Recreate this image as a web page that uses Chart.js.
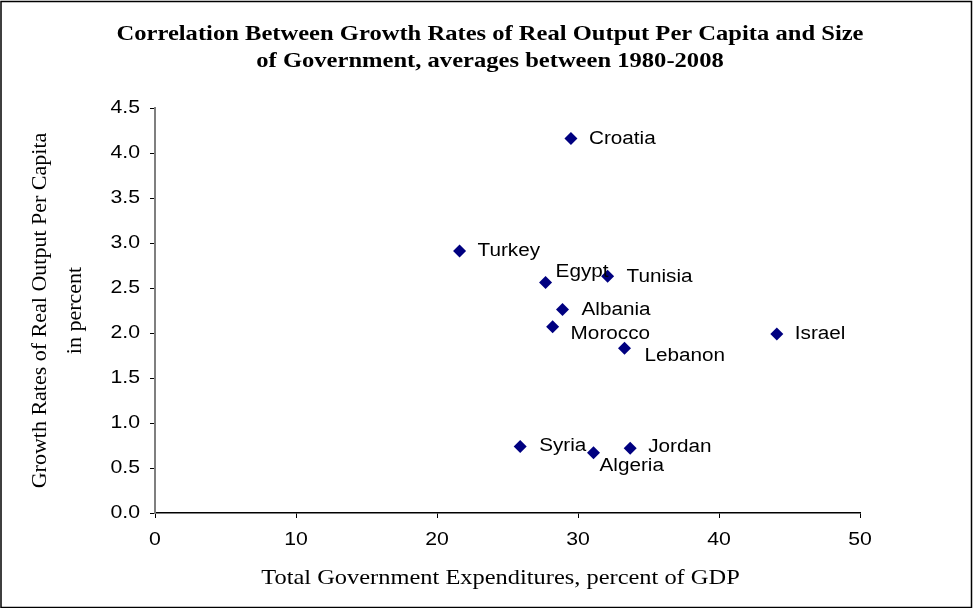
<!DOCTYPE html>
<html>
<head>
<meta charset="utf-8">
<script src="https://cdn.jsdelivr.net/npm/chart.js@4.4.1/dist/chart.umd.min.js"></script>
<style>
  html, body { margin: 0; padding: 0; background: #fff; }
  #wrap { width: 973px; height: 608px; }
</style>
</head>
<body>
<div id="wrap"><canvas id="chart" width="973" height="608"></canvas></div>
<script>
// country names, x = government expenditure (% of GDP), y = growth rate (%)
const countries = ['Croatia', 'Turkey', 'Egypt', 'Tunisia', 'Albania', 'Morocco',
  'Lebanon', 'Israel', 'Syria', 'Algeria', 'Jordan'];
const govSpending = [29.5, 21.6, 27.7, 32.1, 28.9, 28.2, 33.3, 44.1, 25.9, 31.1, 33.7];
const growthRate = [4.16, 2.91, 2.56, 2.63, 2.26, 2.07, 1.83, 1.99, 0.74, 0.67, 0.72];
const xTicks = [0, 10, 20, 30, 40, 50];
const yTicks = [0, 0.5, 1, 1.5, 2, 2.5, 3, 3.5, 4, 4.5];

const titleLines = ['Correlation Between Growth Rates of Real Output Per Capita and Size',
  'of Government, averages between 1980-2008'];
const xTitle = 'Total Government Expenditures, percent of GDP';
const yTitleLines = ['Growth Rates of Real Output Per Capita', 'in percent'];

// label nudges in pixels (dx, dy), same order as countries
const labelShift = [[18, 0], [18, 0], [10, -11], [19, 1], [19, 0], [18, 7],
  [20, 8], [18, 0], [19, 0], [6, 13], [18, -1]];

const points = govSpending.map((x, i) => ({ x: x, y: growthRate[i] }));

const SANS = '"Liberation Sans", Arial, sans-serif';
const SERIF = '"Liberation Serif", "Times New Roman", serif';

// text in the picture is a bit wider than the plain fonts, so stretch it
function stretchText(ctx, text, x, y, sx, align) {
  ctx.save();
  ctx.translate(x, y);
  ctx.scale(sx, 1);
  ctx.textAlign = align;
  ctx.fillText(text, 0, 0);
  ctx.restore();
}

// white background + frame around the whole picture
const framePlugin = {
  id: 'frame',
  beforeDraw(chart) {
    const ctx = chart.ctx;
    ctx.save();
    ctx.fillStyle = '#fff';
    ctx.fillRect(0, 0, chart.width, chart.height);
    ctx.restore();
  },
  afterDraw(chart) {
    const ctx = chart.ctx;
    ctx.save();
    ctx.strokeStyle = '#000';
    ctx.lineWidth = 1.5;
    ctx.strokeRect(1, 1.5, chart.width - 2.5, chart.height - 2);
    ctx.restore();
  }
};

// titles, tick labels and country names
const textPlugin = {
  id: 'texts',
  afterDatasetsDraw(chart) {
    const ctx = chart.ctx;
    const area = chart.chartArea;
    const xs = chart.scales.x;
    const ys = chart.scales.y;
    ctx.save();
    ctx.fillStyle = '#000';
    ctx.textBaseline = 'middle';

    // main title
    ctx.font = 'bold 21px ' + SERIF;
    stretchText(ctx, titleLines[0], 490, 35, 1.17, 'center');
    stretchText(ctx, titleLines[1], 490, 62, 1.17, 'center');

    // tick labels
    ctx.font = '18px ' + SANS;
    xTicks.forEach(v => {
      stretchText(ctx, String(v), xs.getPixelForValue(v), 540, 1.18, 'center');
    });
    yTicks.forEach(v => {
      stretchText(ctx, v.toFixed(1), area.left - 15, ys.getPixelForValue(v), 1.18, 'right');
    });

    // axis titles
    ctx.font = '22px ' + SERIF;
    stretchText(ctx, xTitle, (area.left + area.right) / 2 - 7, 578, 1.11, 'center');
    const midY = (area.top + area.bottom) / 2;
    ctx.save();
    ctx.translate(40, midY);
    ctx.rotate(-Math.PI / 2);
    ctx.textAlign = 'center';
    ctx.fillText(yTitleLines[0], 0, 0);
    ctx.fillText(yTitleLines[1], 0, 35);
    ctx.restore();

    // country names
    const meta = chart.getDatasetMeta(0);
    ctx.font = '18px ' + SANS;
    meta.data.forEach((pt, i) => {
      const s = labelShift[i];
      stretchText(ctx, countries[i], pt.x + s[0], pt.y + s[1], 1.15, 'left');
    });
    ctx.restore();
  }
};

new Chart(document.getElementById('chart'), {
  type: 'scatter',
  data: {
    datasets: [{
      data: points,
      pointStyle: 'rectRot',
      pointRadius: 6.5,
      pointHoverRadius: 6.5,
      backgroundColor: '#000080',
      borderColor: '#000080',
      borderWidth: 0
    }]
  },
  options: {
    responsive: false,
    animation: false,
    layout: { padding: { left: 0, right: 113, top: 108, bottom: 0 } },
    plugins: {
      legend: { display: false },
      tooltip: { enabled: false },
      title: { display: false }
    },
    scales: {
      x: {
        type: 'linear',
        min: 0,
        max: 50,
        afterBuildTicks(scale) { scale.ticks = xTicks.map(v => ({ value: v })); },
        afterFit(scale) { scale.height = 95; },
        grid: { drawOnChartArea: false, drawTicks: true, tickLength: 5, color: '#000', lineWidth: 1 },
        border: { display: true, color: '#000', width: 1.5 },
        ticks: { display: false }
      },
      y: {
        type: 'linear',
        min: 0,
        max: 4.5,
        afterBuildTicks(scale) { scale.ticks = yTicks.map(v => ({ value: v })); },
        afterFit(scale) { scale.width = 155; },
        grid: { drawOnChartArea: false, drawTicks: true, tickLength: 5, color: '#000', lineWidth: 1 },
        border: { display: true, color: '#7f7f7f', width: 2 },
        ticks: { display: false }
      }
    }
  },
  plugins: [framePlugin, textPlugin]
});
</script>
</body>
</html>
